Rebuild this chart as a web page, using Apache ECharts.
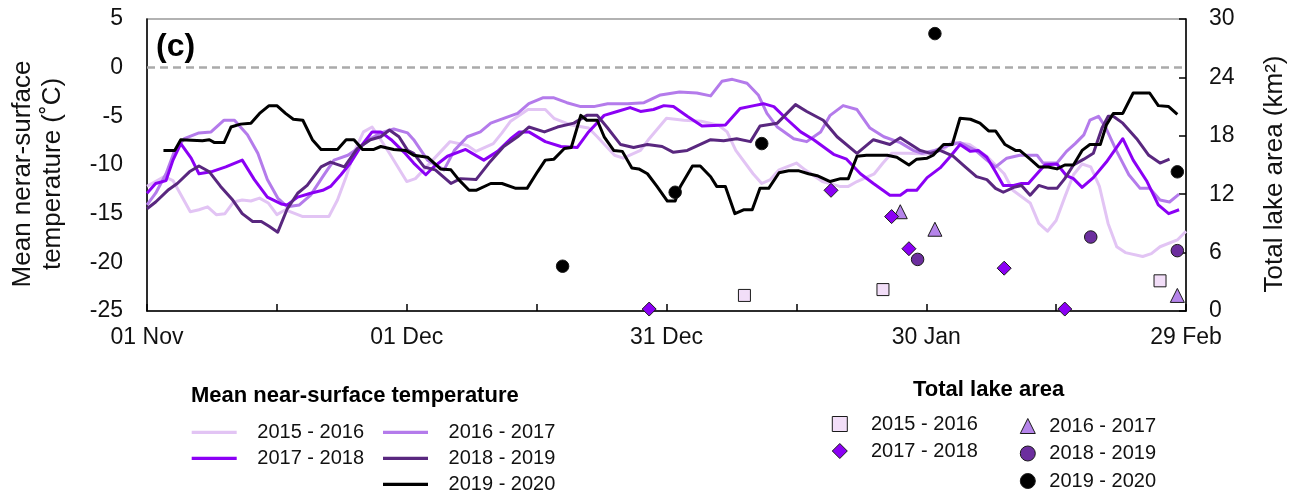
<!DOCTYPE html>
<html><head><meta charset="utf-8">
<script src="https://cdn.jsdelivr.net/npm/echarts@6/dist/echarts.min.js"></script>
<style>html,body{margin:0;padding:0;background:#fff}#c{width:1308px;height:498px}</style>
</head><body><div id="c"></div>
<script>
// ---- data (day index: 0 = 01 Nov, 120 = 29 Feb) ----
const seasons = ['2015 - 2016', '2016 - 2017', '2017 - 2018', '2018 - 2019', '2019 - 2020'];
const xTickDays = [0, 30, 60, 90, 120];
const xTickLabels = ['01 Nov', '01 Dec', '31 Dec', '30 Jan', '29 Feb'];

// Mean near-surface temperature (°C): [day, value]
const temp1516 = [[0,-12.2],[2,-11.2],[3,-11.6],[5,-14.8],[6,-14.6],[7,-14.3],[8,-15.1],[9,-15.0],[10,-13.8],[11,-13.6],[12,-13.7],[13,-13.4],[14,-13.9],[15,-15.1],[16,-14.6],[18,-15.3],[21,-15.3],[22,-13.6],[23,-11.2],[24,-8.5],[25,-6.6],[26,-6.1],[27,-7.4],[28,-8.8],[30,-11.7],[31,-11.4],[33,-9.5],[35,-7.6],[37,-8.0],[38,-8.6],[40,-7.8],[41,-6.7],[42,-5.5],[44,-4.3],[46,-4.3],[47,-5.2],[49,-5.9],[51,-6.2],[52,-7.1],[54,-9.0],[55,-9.3],[57,-8.5],[58,-7.3],[60,-5.2],[62,-5.4],[64,-5.5],[66,-5.9],[67,-6.6],[68,-8.5],[70,-10.9],[71,-11.9],[72,-11.5],[73,-10.5],[75,-9.8],[76,-10.5],[78,-11.7],[80,-12.2],[81,-12.2],[82,-11.7],[84,-10.9],[85,-9.8],[86,-8.8],[88,-8.8],[90,-8.9],[92,-8.4],[93,-7.6],[95,-7.9],[97,-9.1],[99,-10.9],[100,-12.6],[102,-13.9],[103,-16.0],[104,-16.8],[105,-15.7],[106,-13.3],[107,-11.0],[108,-9.9],[109,-10.2],[110,-12.2],[111,-16.0],[112,-18.4],[113,-19.0],[115,-19.4],[116,-19.1],[117,-18.4],[119,-17.7],[120,-16.8]];
const temp1617 = [[0,-14.1],[1,-12.9],[2.2,-10.9],[3.2,-8.5],[4.3,-7.3],[6,-6.7],[7.4,-6.6],[8.9,-5.4],[10.1,-5.4],[11.6,-6.9],[12.8,-8.8],[13.9,-11.5],[15.1,-13.4],[16.2,-14.3],[17.6,-14.1],[18.9,-13.1],[20.3,-11.2],[21.6,-9.5],[23.2,-9.0],[24.7,-8.1],[25.8,-7.3],[27,-6.7],[28.5,-6.3],[30.1,-6.7],[30.8,-7.4],[32.4,-9.5],[34.3,-10.5],[35.5,-8.5],[37,-7.1],[38.5,-6.6],[39.7,-5.7],[41.2,-5.2],[42.8,-4.7],[44.1,-3.7],[45.7,-3.1],[47,-3.1],[48.5,-3.6],[50.1,-4.0],[51.6,-4.0],[53.2,-3.7],[55.5,-3.7],[57.4,-3.6],[59.3,-2.8],[61.5,-2.5],[63.5,-2.6],[65.1,-2.9],[66.4,-1.4],[67.6,-1.2],[69.3,-1.6],[70.6,-2.8],[71.6,-4.7],[72.8,-6.1],[74.7,-7.3],[76.2,-7.6],[77.8,-6.6],[78.9,-4.9],[80.4,-3.9],[82,-4.3],[83.5,-6.2],[85.1,-7.1],[87,-7.7],[88.5,-8.5],[89.5,-8.8],[91,-8.5],[92.5,-8.0],[93.9,-7.7],[95.7,-8.5],[97,-9.5],[98,-10.2],[99.3,-9.3],[100.8,-9.0],[102.8,-9.0],[103.5,-9.8],[105.1,-9.8],[106.2,-8.6],[107.2,-7.8],[108.2,-6.9],[108.9,-5.4],[109.9,-5.0],[110.7,-6.1],[112,-8.6],[113.4,-11.0],[114.7,-12.4],[115.8,-12.4],[117,-13.6],[118.1,-13.8],[119.2,-13.0]];
const temp1718 = [[0,-12.9],[1,-11.9],[2.2,-11.6],[3,-9.5],[3.9,-7.8],[5.1,-9.3],[6,-10.9],[7.4,-10.7],[9.1,-10.2],[11,-9.5],[12.4,-11.5],[13.9,-13.3],[15.5,-14.0],[16.2,-14.1],[17.4,-13.3],[18.9,-12.9],[20.3,-12.6],[21.2,-12.2],[22.4,-11.0],[23.5,-9.8],[24.7,-8.1],[26,-6.6],[27,-6.6],[28.2,-7.4],[29.7,-8.7],[30.8,-9.8],[32.2,-11.0],[33.1,-10.2],[34.7,-9.1],[36.8,-8.4],[38.9,-9.5],[40.5,-8.6],[42,-7.3],[43,-6.6],[44.1,-6.6],[46,-7.6],[47.8,-8.1],[49.7,-8.2],[51,-6.6],[52.8,-4.9],[54.3,-4.5],[55.8,-4.1],[57,-4.5],[58.5,-4.3],[59.7,-3.9],[60.8,-4.0],[62.4,-5.0],[64.1,-6.0],[66.8,-5.9],[68.5,-4.2],[70.1,-3.9],[71.2,-3.7],[72.4,-4.0],[73.9,-5.3],[75.5,-6.6],[77,-7.4],[79.3,-8.9],[80.8,-9.4],[82.4,-10.9],[83.9,-11.9],[85.8,-13.1],[87,-13.1],[87.8,-12.6],[88.9,-12.6],[90.1,-11.3],[91.6,-10.3],[92.8,-9.1],[93.9,-7.9],[95.1,-8.6],[96,-8.5],[97,-9.2],[98,-10.7],[98.9,-12.1],[100.1,-12.1],[101,-11.9],[101.8,-11.9],[103,-10.7],[103.7,-10.0],[105.1,-9.9],[106.2,-11.1],[107,-11.4],[108,-12.3],[109.3,-11.3],[110.8,-9.7],[112.7,-7.3],[113.9,-9.5],[115.5,-11.7],[116.8,-14.1],[118,-15.0],[119.2,-14.6]];
const temp1819 = [[0,-14.5],[1,-13.8],[2.4,-12.6],[3.5,-11.9],[4.9,-10.7],[6,-10.1],[7.2,-10.7],[8.5,-12.2],[9.9,-13.6],[11,-15.0],[12.2,-15.8],[13.2,-15.8],[14.1,-16.3],[15.1,-16.9],[16.2,-14.5],[17.4,-12.9],[18.5,-12.1],[20.1,-10.2],[21.2,-9.7],[22.8,-10.2],[24.3,-8.3],[25.8,-7.4],[27,-7.1],[28,-6.4],[29.1,-7.1],[30.1,-8.5],[30.8,-8.8],[32,-10.2],[33.3,-10.5],[35.1,-11.9],[36.2,-11.4],[38,-11.5],[39.5,-9.8],[41.2,-8.1],[42.8,-7.1],[44.1,-6.1],[45.9,-6.6],[47.4,-6.1],[49.3,-5.7],[50.8,-4.9],[52,-4.9],[53.2,-6.2],[54.7,-7.9],[56.2,-8.2],[57.8,-7.9],[59.5,-8.1],[60.8,-8.7],[62.4,-8.5],[65.1,-7.4],[66.6,-7.5],[68.1,-7.3],[69.7,-7.6],[70.8,-6.0],[72.8,-5.7],[74.9,-3.8],[76.2,-4.5],[78.1,-5.4],[79.7,-7.1],[82,-8.8],[83.9,-7.4],[85.8,-7.9],[87,-7.2],[88.4,-8.0],[89.3,-8.5],[90.5,-8.8],[91.6,-8.5],[93.1,-9.1],[94.5,-10.2],[95.8,-11.2],[97,-11.5],[98,-12.4],[98.9,-12.8],[100.1,-12.3],[101,-12.1],[102,-13.1],[103,-12.1],[104.1,-12.4],[105.1,-12.4],[106,-11.4],[107,-10.0],[108.2,-9.4],[109.3,-8.8],[110.3,-6.2],[111,-5.0],[111.6,-5.0],[112.7,-5.7],[114.3,-7.3],[115.7,-9.0],[117,-9.8],[118.1,-9.4]];
const temp1920 = [[1.9,-8.5],[3.2,-8.5],[3.9,-7.4],[6.4,-7.5],[7.2,-7.4],[7.8,-7.7],[8.9,-7.7],[9.7,-6.1],[10.8,-5.8],[12,-5.7],[13,-4.7],[14.1,-3.9],[15,-3.9],[16,-4.7],[16.9,-5.3],[18,-5.4],[19.1,-7.4],[20.1,-8.4],[22,-8.4],[23,-7.4],[23.9,-7.4],[24.9,-8.4],[26.2,-8.4],[27,-8.1],[28.5,-8.4],[29.9,-8.5],[30.8,-9.0],[32.4,-9.2],[33.9,-10.4],[35.1,-10.5],[36,-11.5],[37.2,-12.6],[38,-12.6],[39.7,-11.9],[41,-11.9],[42.6,-12.4],[43.9,-12.4],[45.1,-10.7],[46,-9.5],[47,-9.4],[48.2,-8.3],[49,-8.2],[50.1,-4.9],[50.8,-5.4],[52,-5.4],[52.8,-7.1],[53.9,-8.5],[54.9,-8.6],[56,-10.3],[56.8,-10.4],[57.8,-10.9],[58.9,-12.2],[60.1,-13.7],[61,-13.7],[61.6,-12.2],[63,-10.1],[63.9,-10.1],[65.1,-11.2],[65.8,-12.2],[66.8,-12.2],[67.9,-15.0],[68.9,-14.6],[69.9,-14.6],[70.8,-12.4],[71.8,-12.4],[73,-10.8],[74.1,-10.6],[75.3,-10.6],[76.4,-10.9],[77.4,-11.1],[78.9,-11.7],[80.1,-11.4],[81,-11.4],[82,-9.1],[83.1,-9.0],[85.5,-9.0],[86.6,-9.2],[88,-10.0],[88.9,-9.4],[90.1,-9.3],[90.8,-9.0],[92,-7.9],[93,-7.9],[93.9,-5.2],[95.1,-5.3],[96.2,-5.7],[97.2,-6.5],[98,-6.5],[99.1,-7.9],[100.3,-8.5],[100.8,-8.5],[102,-9.4],[103,-10.2],[104.1,-10.2],[105.1,-10.4],[106,-10.0],[107,-10.0],[108,-8.5],[108.9,-7.9],[110.1,-7.9],[110.8,-5.9],[111.6,-4.7],[112.7,-4.7],[113.9,-2.6],[115.8,-2.6],[116.8,-3.9],[118,-4.0],[119,-4.8]];

// Total lake area (km²): [day, value]
const area1516 = [[69,1.6],[85,2.2],[117,3.1]];
const area1617 = [[87,10.2],[91,8.4],[119,1.6]];
const area1718 = [[58,0.2],[79,12.4],[86,9.7],[88,6.4],[99,4.4],[106,0.2]];
const area1819 = [[89,5.3],[109,7.6],[119,6.2]];
const area1920 = [[48,4.6],[61,12.2],[71,17.2],[91,28.5],[119,14.3]];

// ---- styles ----
const FONT = '"Liberation Sans", Arial, sans-serif';
const lineColors = ['#E2C4F4', '#B47BEB', '#8B00F5', '#59277F', '#000000'];
const markFill = ['#F2DEF8', '#B584EA', '#8B00F5', '#6C2E9E', '#000000'];
const markSymbol = ['rect', 'triangle', 'diamond', 'circle', 'circle'];
const markSize = [12, 14, 14, 12.5, 12.5];
const temps = [temp1516, temp1617, temp1718, temp1819, temp1920];
const areas = [area1516, area1617, area1718, area1819, area1920];

const series = [];
temps.forEach((d, i) => {
  const s = {
    name: 'T|' + seasons[i], type: 'line', yAxisIndex: 0, data: d,
    symbol: 'none', showSymbol: false, smooth: false,
    lineStyle: { color: lineColors[i], width: 3, join: 'round' },
    itemStyle: { color: lineColors[i] }, z: 2 + i * 0.01
  };
  if (i === 0) {
    s.markLine = {
      silent: true, symbol: ['none', 'none'], label: { show: false },
      lineStyle: { color: '#AAAAAA', type: [8, 5], width: 2.5 },
      data: [{ yAxis: 0 }]
    };
  }
  series.push(s);
});
areas.forEach((d, i) => {
  series.push({
    name: 'A|' + seasons[i], type: 'scatter', yAxisIndex: 1, data: d,
    symbol: markSymbol[i], symbolSize: markSize[i],
    itemStyle: { color: markFill[i], borderColor: '#1a1a1a', borderWidth: 1, opacity: 1 },
    z: 5
  });
});

const fmt = n => n.slice(2);
const legTxt = (pad) => ({ fontFamily: FONT, fontSize: 20, lineHeight: 20, color: '#111', padding: [0, 0, 0, pad] });

const option = {
  animation: false,
  backgroundColor: '#fff',
  textStyle: { fontFamily: FONT },
  title: [
    { text: '(c)', left: 156, top: 31, padding: 0, textStyle: { fontFamily: FONT, fontSize: 32, fontWeight: 'bold', color: '#000' } },
    { text: 'Mean near-surface temperature', left: 191, top: 385, padding: 0, textStyle: { fontFamily: FONT, fontSize: 22, fontWeight: 'bold', color: '#000' } },
    { text: 'Total lake area', left: 913, top: 379, padding: 0, textStyle: { fontFamily: FONT, fontSize: 22, fontWeight: 'bold', color: '#000' } }
  ],
  legend: [
    { orient: 'vertical', left: 191.7, top: 422.3, padding: 0, icon: 'rect', itemWidth: 45, itemHeight: 3.3, itemGap: 6, selectedMode: false,
      itemStyle: { borderWidth: 0 },
      data: ['T|2015 - 2016', 'T|2017 - 2018'], formatter: fmt, textStyle: legTxt(15.6) },
    { orient: 'vertical', left: 383, top: 422.3, padding: 0, icon: 'rect', itemWidth: 45, itemHeight: 3.3, itemGap: 6, selectedMode: false,
      itemStyle: { borderWidth: 0 },
      data: ['T|2016 - 2017', 'T|2018 - 2019', 'T|2019 - 2020'], formatter: fmt, textStyle: legTxt(15.6) },
    { orient: 'vertical', left: 831.8, top: 414, padding: 0, itemWidth: 15, itemHeight: 15, itemGap: 7, selectedMode: false,
      itemStyle: { borderWidth: 1 },
      data: ['A|2015 - 2016', 'A|2017 - 2018'], formatter: fmt, textStyle: legTxt(18.7) },
    { orient: 'vertical', left: 1019.8, top: 416, padding: 0, itemWidth: 15, itemHeight: 15, itemGap: 7.5, selectedMode: false,
      itemStyle: { borderWidth: 1 },
      data: ['A|2016 - 2017', 'A|2018 - 2019', 'A|2019 - 2020'], formatter: fmt, textStyle: legTxt(9) }
  ],
  grid: { left: 147, right: 122, top: 19, bottom: 187, show: true, borderColor: '#999', borderWidth: 1.5, backgroundColor: 'transparent' },
  xAxis: {
    type: 'value', min: 0, max: 120, interval: 15,
    axisLine: { show: true, onZero: false, lineStyle: { color: '#000', width: 1.5 } },
    axisTick: { show: true, inside: true, length: 7, lineStyle: { color: '#000', width: 1.5 } },
    splitLine: { show: false },
    axisLabel: {
      show: true, margin: 15, fontFamily: FONT, fontSize: 23, color: '#111', showMinLabel: true, showMaxLabel: true,
      formatter: v => { const k = xTickDays.indexOf(v); return k >= 0 ? xTickLabels[k] : ''; }
    }
  },
  yAxis: [
    {
      type: 'value', position: 'left', min: -25, max: 5, interval: 5,
      name: 'Mean nerar-surface\ntemperature (˚C)', nameLocation: 'middle', nameGap: 79,
      nameTextStyle: { fontFamily: FONT, fontSize: 26, lineHeight: 30, color: '#111', padding: [0, 18, 0, 0] },
      axisLine: { show: true, onZero: false, lineStyle: { color: '#000', width: 1.5 } },
      axisTick: { show: false },
      splitLine: { show: false },
      axisLabel: { margin: 24, fontFamily: FONT, fontSize: 23, color: '#111' }
    },
    {
      type: 'value', position: 'right', min: 0, max: 30, interval: 6,
      name: 'Total lake area (km²)', nameLocation: 'middle', nameGap: 76,
      nameTextStyle: { fontFamily: FONT, fontSize: 26, color: '#111', padding: [0, 18, 0, 0] },
      axisLine: { show: true, onZero: false, lineStyle: { color: '#000', width: 1.5 } },
      axisTick: { show: true, inside: true, length: 7, lineStyle: { color: '#000', width: 1.5 } },
      splitLine: { show: false },
      axisLabel: { margin: 23, fontFamily: FONT, fontSize: 23, color: '#111' }
    }
  ],
  series: series
};

const chart = echarts.init(document.getElementById('c'), null, { renderer: 'canvas' });
chart.setOption(option);
</script>
</body></html>
